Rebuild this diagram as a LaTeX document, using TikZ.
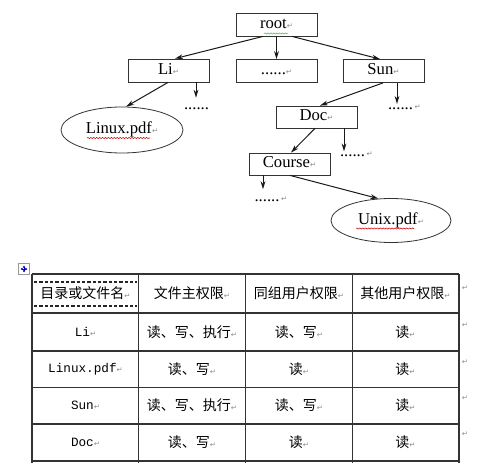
\documentclass[tikz,border=0pt]{standalone}
\usepackage{fontspec}
\setmainfont{Liberation Serif}
\setmonofont{Liberation Mono}
\newfontfamily\cjk{Noto Sans CJK SC}
\newfontfamily\djv{DejaVu Sans}
\usetikzlibrary{arrows.meta,calc,decorations.pathmorphing,shapes.geometric}
\newcommand{\parmk}{{\djv\fontsize{5.5pt}{6pt}\selectfont\textcolor{black!45}{↵}}}
\begin{document}
\begin{tikzpicture}[x=0.75pt,y=-0.75pt,
  tfont/.style={font=\fontsize{12.5pt}{14pt}\selectfont},
  box/.style={tfont,draw=black!80,line width=0.6pt,minimum width=60.75pt,minimum height=17.25pt,inner sep=0pt,text height=8pt,text depth=2.5pt},
  leaf/.style={tfont,ellipse,draw=black!80,line width=0.6pt,inner sep=0pt,text height=8pt,text depth=2.5pt},
  dotsn/.style={tfont,inner sep=0pt,text height=4pt,text depth=0pt,anchor=base},
  pmk/.style={anchor=base west,inner sep=0.8pt},
  arr/.style={line width=0.75pt,black!90,-{Stealth[length=6pt,width=3.6pt]}},
  wavy/.style={line width=0.4pt,decorate,decoration={snake,amplitude=0.45pt,segment length=2.2pt}},
  gridline/.style={line width=1pt,black!80},
  dashline/.style={line width=0.8pt,black!85,dash pattern=on 2.4pt off 1.6pt},
  zh/.style={font=\cjk\fontsize{10.5pt}{12pt}\selectfont,inner sep=0pt},
  lat/.style={font=\ttfamily\fontsize{9.5pt}{12pt}\selectfont,inner sep=0pt},
  rowmark/.style={inner sep=0pt}
]
\path[use as bounding box,fill=white] (0,0) rectangle (500,463);

% ---- tree ----
\node[box] (root) at (276.5,24.5) {root\parmk};
\node[box] (Li) at (168.5,70.5) {Li\parmk};
\node[box] (mid) at (276.5,71) {......\parmk};
\node[box] (Sun) at (383.5,71) {Sun\parmk};
\node[box,minimum height=16.5pt] (Doc) at (316.5,117) {Doc\parmk};
\node[box,minimum height=16.5pt] (Course) at (289.5,164) {Course\parmk};
\node[leaf,minimum width=91.5pt,minimum height=34.5pt] (linux) at (122,130) {Linux.pdf\parmk};
\node[leaf,minimum width=90pt,minimum height=33pt] (unix) at (391,220.5) {Unix.pdf\parmk};

\node[dotsn,text height=9pt] (lidots) at (196.5,110) {......};
\node[dotsn] (sundots) at (400.5,109.5) {......};
\node[dotsn] (docdots) at (352.5,157) {......};
\node[dotsn,text height=9pt] (coudots) at (267,201.5) {......};
\node[pmk] (sunpm) at (sundots.base east) {\parmk};
\node[pmk] (docpm) at (docdots.base east) {\parmk};
\node[pmk] (coupm) at (coudots.base east) {\parmk};

\draw[arr] ($(root.south)+(-13.5,0)$) -- ($(Li.north)+(6.5,0)$);
\draw[arr] (root.south) -- (mid.north);
\draw[arr] ($(root.south)+(15.5,0)$) -- ($(Sun.north)+(-3.5,0)$);
\draw[arr] ($(Li.south)+(-0.5,0)$) -- (linux.80);
\draw[arr] ($(Li.south)+(27.5,0)$) coordinate (a1) -- (a1 |- lidots.north);
\draw[arr] ($(Sun.south)+(-0.5,0)$) -- ($(Doc.north)+(3.5,0)$);
\draw[arr] ($(Sun.south)+(13.5,0)$) coordinate (a2) -- (a2 |- sundots.north);
\draw[arr] ($(Doc.south)+(-1.5,0)$) -- ($(Course.north)+(1.5,0)$);
\draw[arr] ($(Doc.south)+(27.5,0)$) coordinate (a3) -- (a3 |- docdots.north);
\draw[arr] ($(Course.south)+(-26.5,0)$) coordinate (a4) -- (a4 |- coudots.north);
\draw[arr] ($(Course.south)+(0.5,0)$) -- (unix.120);

% spell-check underlines
\draw[wavy,green!45!gray] ($(root.center)+(-12.5,9)$) -- ($(root.center)+(11,9)$);
\draw[wavy,red!80!black] ($(linux.center)+(-35,8)$) -- ($(linux.center)+(28,8)$);
\draw[wavy,red!80!black] ($(unix.center)+(-35,8)$) -- ($(unix.center)+(23,8)$);

% ---- table ----
\draw[black!40,line width=0.4pt] (18.5,263.5) rectangle (29.5,274.5);
\draw[blue!70!black,line width=0.6pt,{Latex[length=1.6pt,width=2pt]}-{Latex[length=1.6pt,width=2pt]}] (20.5,269) -- (27.5,269);
\draw[blue!70!black,line width=0.6pt,{Latex[length=1.6pt,width=2pt]}-{Latex[length=1.6pt,width=2pt]}] (24,265.5) -- (24,272.5);

\foreach \y in {274,313,351,387.5,424,461} \draw[gridline] (32,\y) -- (459,\y);
\foreach \x in {32,138.5,245.5,352.5,459} \draw[gridline] (\x,274) -- (\x,463);
\draw[dashline] (34,282) -- (137,282);
\draw[dashline] (34,306) -- (137,306);

\node[zh] (h1) at (85.5,293.5) {目录或文件名\parmk};
\node[zh] (h2) at (192,293.5) {文件主权限\parmk};
\node[zh] (h3) at (299,293.5) {同组用户权限\parmk};
\node[zh] (h4) at (405.5,293.5) {其他用户权限\parmk};

\node[lat] (r1a) at (85.5,332) {Li\parmk};
\node[zh] (r1b) at (192,332) {读、写、执行\parmk};
\node[zh] (r1c) at (299,332) {读、写\parmk};
\node[zh] (r1d) at (405.5,332) {读\parmk};

\node[lat] (r2a) at (85.5,369) {Linux.pdf\parmk};
\node[zh] (r2b) at (192,369) {读、写\parmk};
\node[zh] (r2c) at (299,369) {读\parmk};
\node[zh] (r2d) at (405.5,369) {读\parmk};

\node[lat] (r3a) at (85.5,405.5) {Sun\parmk};
\node[zh] (r3b) at (192,405.5) {读、写、执行\parmk};
\node[zh] (r3c) at (299,405.5) {读、写\parmk};
\node[zh] (r3d) at (405.5,405.5) {读\parmk};

\node[lat] (r4a) at (85.5,442.5) {Doc\parmk};
\node[zh] (r4b) at (192,442.5) {读、写\parmk};
\node[zh] (r4c) at (299,442.5) {读\parmk};
\node[zh] (r4d) at (405.5,442.5) {读\parmk};

\foreach \y [count=\i] in {288,325,362,398,434} \node[rowmark] (m\i) at (465,\y) {\parmk};
\end{tikzpicture}
\end{document}
